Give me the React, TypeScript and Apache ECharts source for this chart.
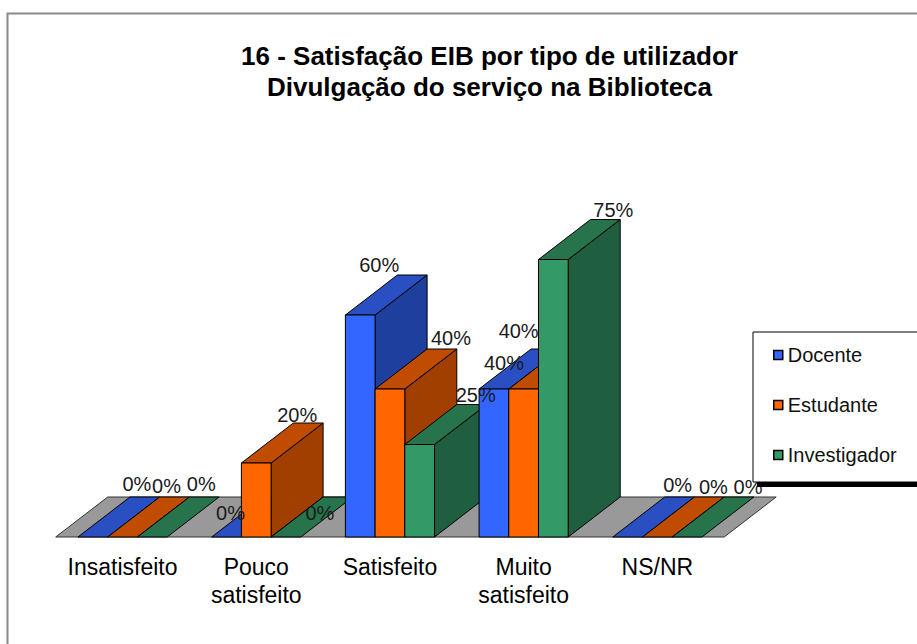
import React, { useEffect, useRef } from "react";
import * as echarts from "echarts";

const categories = ["Insatisfeito", "Pouco\nsatisfeito", "Satisfeito", "Muito\nsatisfeito", "NS/NR"];
const seriesNames = ["Docente", "Estudante", "Investigador"];
const docente = [0, 0, 60, 40, 0];
const estudante = [0, 20, 40, 40, 0];
const investigador = [0, 0, 25, 75, 0];
const seriesValues = [docente, estudante, investigador];

const titleText = "16 - Satisfação EIB por tipo de utilizador\nDivulgação do serviço na Biblioteca";

// styles
const frontColors = ["#3366FF", "#FF6600", "#339966"];
const topColors = ["#2A4FC2", "#BF4C00", "#26734C"];
const sideColors = ["#1F3F9E", "#A03F00", "#1F5F3F"];
const floorColor = "#999999";
const DX = 52;
const DY = -40;
const FONT = "'Liberation Sans', Arial, sans-serif";

// per-label nudges (px) relative to the default anchor above the bar's back edge
const labelNudgeXDocente = [-8, -48, -33, -42, -2];
const labelNudgeXEstudante = [-8, -11, 9, -57, 4];
const labelNudgeXInvestigador = [-3, -18, 4, 8, 9];
const labelNudgeYDocente = [-3, 26, 0, 24, -2];
const labelNudgeYEstudante = [-1, 2, -1, -8, 0];
const labelNudgeYInvestigador = [-3, 26, 0, 0, 0];
const labelNudgeX = [labelNudgeXDocente, labelNudgeXEstudante, labelNudgeXInvestigador];
const labelNudgeY = [labelNudgeYDocente, labelNudgeYEstudante, labelNudgeYInvestigador];

function makeBarRender(s: number) {
  return (params: any, api: any) => {
    const c = api.value(0);
    const v = api.value(1);
    const base = api.coord([c, 0]);
    const topP = api.coord([c, v]);
    const catW = api.size([1, 0])[0];
    const w = catW / 4.5;
    const L = base[0] - catW / 2 + 0.75 * w + s * w;
    const R = L + w;
    const yb = base[1];
    const yt = topP[1];
    const idx = c * 3 + s;
    const children: any[] = [];
    if (v === 0) {
      children.push({
        type: "polygon",
        z2: idx * 4 + 1,
        shape: { points: [[L, yb], [R, yb], [R + DX, yb + DY], [L + DX, yb + DY]] },
        style: { fill: topColors[s], stroke: "#000", lineWidth: 1 },
      });
    } else {
      children.push({
        type: "polygon",
        z2: idx * 4,
        shape: { points: [[R, yt], [R + DX, yt + DY], [R + DX, yb + DY], [R, yb]] },
        style: { fill: sideColors[s], stroke: "#000", lineWidth: 1 },
      });
      children.push({
        type: "polygon",
        z2: idx * 4 + 1,
        shape: { points: [[L, yt], [R, yt], [R + DX, yt + DY], [L + DX, yt + DY]] },
        style: { fill: topColors[s], stroke: "#000", lineWidth: 1 },
      });
      children.push({
        type: "rect",
        z2: idx * 4 + 2,
        shape: { x: L, y: yt, width: w, height: yb - yt },
        style: { fill: frontColors[s], stroke: "#000", lineWidth: 1 },
      });
    }
    children.push({
      type: "text",
      z2: 1000,
      style: {
        text: v + "%",
        x: L + w / 2 + DX + labelNudgeX[s][c],
        y: yt + DY - 10 + labelNudgeY[s][c],
        fill: "#1a1a1a",
        fontSize: 20,
        fontFamily: FONT,
        align: "center",
        verticalAlign: "middle",
      },
    });
    return { type: "group", children };
  };
}

function floorRender(params: any, api: any) {
  const p0 = api.coord([0, 0]);
  const catW = api.size([1, 0])[0];
  const left = p0[0] - catW / 2;
  const right = left + catW * categories.length;
  const yb = p0[1];
  return {
    type: "polygon",
    z2: -100,
    shape: { points: [[left, yb], [right, yb], [right + DX, yb + DY], [left + DX, yb + DY]] },
    style: { fill: floorColor, stroke: "#333", lineWidth: 1 },
  };
}

export default function App() {
  const ref = useRef<HTMLDivElement>(null);
  useEffect(() => {
    if (!ref.current) return;
    const chart = echarts.init(ref.current, null, { renderer: "svg" });
    const option: any = {
      animation: false,
      backgroundColor: "#ffffff",
      title: {
        text: titleText,
        left: 489.5,
        top: 40,
        padding: 0,
        textAlign: "center",
        textStyle: {
          fontSize: 26,
          fontWeight: "bold",
          fontFamily: FONT,
          color: "#000",
          lineHeight: 31,
        },
      },
      legend: {
        data: seriesNames,
        orient: "vertical",
        left: 753,
        top: 332,
        z: 10,
        padding: [13, 40, 17, 20],
        itemGap: 30,
        itemWidth: 9,
        itemHeight: 9,
        icon: "rect",
        itemStyle: { borderColor: "#000", borderWidth: 1.5 },
        backgroundColor: "#ffffff",
        borderColor: "#000",
        borderWidth: 1,
        borderRadius: 0,
        textStyle: { fontSize: 20, fontFamily: FONT, color: "#111", lineHeight: 20 },
      },
      grid: { left: 55.7, width: 668.5, top: 167, bottom: 107, containLabel: false },
      xAxis: {
        type: "category",
        data: categories,
        boundaryGap: true,
        axisLine: { show: false },
        axisTick: { show: false },
        splitLine: { show: false },
        axisLabel: {
          interval: 0,
          margin: 16,
          fontSize: 23,
          lineHeight: 28,
          fontFamily: FONT,
          color: "#000",
          align: "center",
        },
      },
      yAxis: { type: "value", min: 0, max: 100, show: false },
      graphic: [
        {
          type: "polyline",
          z: 0,
          shape: { points: [[7.5, 700], [7.5, 13.5], [1000, 13.5]] },
          style: { stroke: "#8a8a8a", lineWidth: 2, fill: "none" },
        },
        {
          type: "rect",
          z: 9,
          shape: { x: 757, y: 476, width: 200, height: 11 },
          style: { fill: "#000" },
        },
      ],
      series: [
        {
          type: "custom",
          name: "floor",
          clip: false,
          renderItem: floorRender,
          data: [[0, 0]],
          encode: { x: 0, y: 1 },
          silent: true,
        },
        ...seriesNames.map((name, s) => ({
          type: "custom",
          name,
          clip: false,
          renderItem: makeBarRender(s),
          itemStyle: { color: frontColors[s] },
          data: seriesValues[s].map((v, i) => [i, v]),
          encode: { x: 0, y: 1 },
        })),
      ],
    };
    chart.setOption(option);
    return () => chart.dispose();
  }, []);
  return (
    <div
      ref={ref}
      style={{ position: "absolute", left: 0, top: 0, width: 917, height: 644 }}
    />
  );
}
